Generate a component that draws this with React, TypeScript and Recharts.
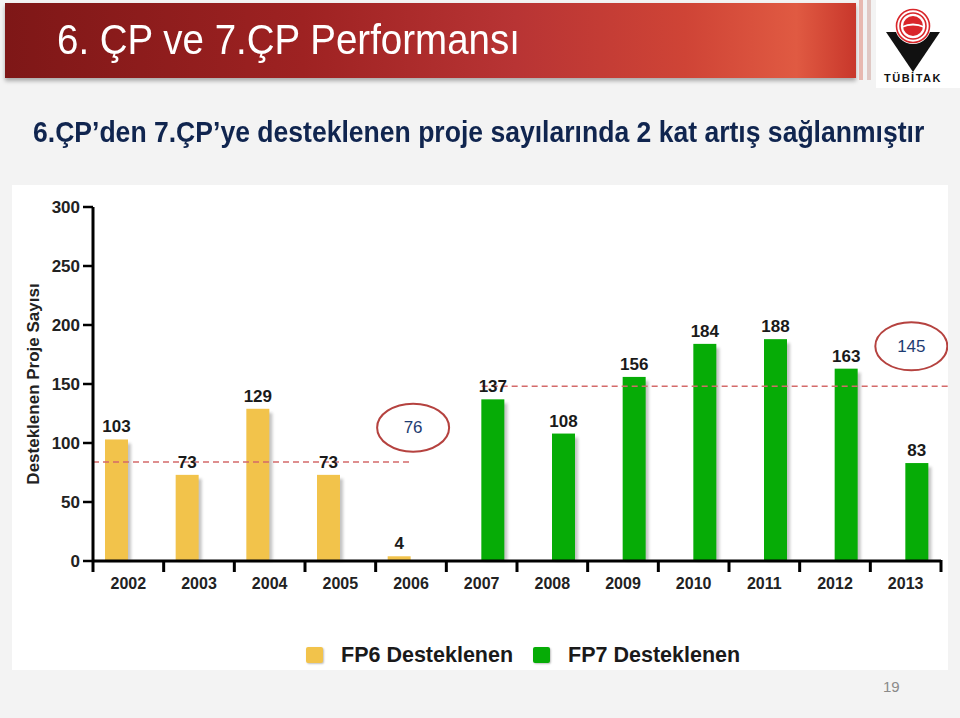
import React from 'react';
import { BarChart, Bar, XAxis, YAxis, LabelList, ReferenceLine, ReferenceDot, Legend } from 'recharts';

// years on the x axis
const years = ['2002', '2003', '2004', '2005', '2006', '2007', '2008', '2009', '2010', '2011', '2012', '2013'];
// supported projects per year
const fp6Values = [103, 73, 129, 73, 4, null, null, null, null, null, null, null];
const fp7Values = [null, null, null, null, null, 137, 108, 156, 184, 188, 163, 83];
const yTicks = [0, 50, 100, 150, 200, 250, 300];
const seriesNames = ['FP6 Desteklenen', 'FP7 Desteklenen'];
// average annotations (circled) and where the dashed lines sit
const averageLabels = ['76', '145'];
const averageLevels = [84, 148];

const FONT = '"Liberation Sans", Arial, sans-serif';
const YELLOW = '#F2C34B';
const GREEN = '#06AC06';
const DASH = '#D46A6A';

const data = years.map((year, i) => ({ year, fp6: fp6Values[i], fp7: fp7Values[i] }));

const ShadowBar = (props: any) => {
  const { x, y, width, height, fill } = props;
  if (!height || height <= 0) return null;
  return (
    <g>
      <rect x={x + 3} y={y + 4} width={width} height={Math.max(height - 4, 0)} fill="#555" opacity={0.35} filter="url(#barBlur)" />
      <rect x={x} y={y} width={width} height={height} fill={fill} />
    </g>
  );
};

const ValueLabel = (props: any) => {
  const { x, y, width, value } = props;
  if (value == null) return null;
  return (
    <text x={x + width / 2} y={y - 7} textAnchor="middle" fontFamily={FONT} fontWeight="bold" fontSize={17} fill="#1a1a1a">
      {value}
    </text>
  );
};

// year label in the band centre, tick mark on the band boundary
const YearTick = (props: any) => {
  const { x, y, payload, index } = props;
  const half = payload.offset ?? 35.3;
  return (
    <g>
      <line x1={x - half} y1={y - 1} x2={x - half} y2={y + 11} stroke="#000" strokeWidth={3} />
      {index === years.length - 1 && (
        <line x1={x + half} y1={y - 1} x2={x + half} y2={y + 11} stroke="#000" strokeWidth={3} />
      )}
      <text x={x} y={y + 28} textAnchor="middle" fontFamily={FONT} fontWeight="bold" fontSize={16} fill="#222">
        {payload.value}
      </text>
    </g>
  );
};

const AxisTitle = (props: any) => {
  const { viewBox } = props;
  const cx = viewBox.x + 21;
  const cy = viewBox.y + viewBox.height / 2;
  return (
    <text x={cx} y={cy} transform={`rotate(-90, ${cx}, ${cy})`} textAnchor="middle" dominantBaseline="central"
      fontFamily={FONT} fontWeight="bold" fontSize={17} fill="#222">
      Desteklenen Proje Sayısı
    </text>
  );
};

const circled = (text: string) => (props: any) => {
  const { cx, cy } = props;
  return (
    <g>
      <ellipse cx={cx} cy={cy} rx={36} ry={24} fill="none" stroke="#B5423F" strokeWidth={2} />
      <text x={cx} y={cy} textAnchor="middle" dominantBaseline="central" fontFamily={FONT} fontSize={17} fill="#1E3C72">
        {text}
      </text>
    </g>
  );
};

const LegendBox = () => (
  <div style={{ height: 72, display: 'flex', alignItems: 'flex-end', paddingLeft: 294, fontFamily: FONT }}>
    {seriesNames.map((name, i) => (
      <div key={name} style={{ display: 'flex', alignItems: 'center', marginRight: 20 }}>
        <span style={{ width: 17, height: 16, background: i === 0 ? YELLOW : GREEN, borderRadius: 2, marginRight: 18, boxShadow: '1px 1px 2px rgba(0,0,0,0.25)' }} />
        <span style={{ fontWeight: 'bold', fontSize: 21.5, color: '#1a1a1a', lineHeight: '16px' }}>{name}</span>
      </div>
    ))}
  </div>
);

const TubitakLogo = () => (
  <svg width={70} height={84} style={{ position: 'absolute', left: 878, top: 2 }}>
    <polygon points="8,30 62,30 35,70" fill="#111" />
    <circle cx={35} cy={24} r={18} fill="#fff" />
    <circle cx={35} cy={24} r={16.5} fill="none" stroke="#D9262A" strokeWidth={1.6} />
    <circle cx={35} cy={24} r={13} fill="none" stroke="#D9262A" strokeWidth={1.6} />
    <circle cx={35} cy={24} r={10} fill="#D9262A" />
    <path d="M24,25 Q35,20 46,25" stroke="#fff" strokeWidth={1.8} fill="none" />
    <text x={35} y={80} textAnchor="middle" fontFamily={FONT} fontWeight="bold" fontSize={11} letterSpacing={1.5} fill="#111">
      TÜBİTAK
    </text>
  </svg>
);

export default function App() {
  return (
    <div style={{ position: 'absolute', left: 0, top: 0, width: 960, height: 718, background: '#F3F3F3', overflow: 'hidden', fontFamily: FONT }}>
      {/* header band */}
      <div style={{
        position: 'absolute', left: 5, top: 3, width: 851, height: 75,
        background: 'linear-gradient(90deg, #7E1717 0%, #9E2222 35%, #B83434 60%, #CF4436 80%, #E05A42 93%, #C8372B 100%)',
        boxShadow: '0 3px 4px rgba(0,0,0,0.3)',
      }} />
      <div style={{ position: 'absolute', left: 859, top: 0, width: 4, height: 80, background: '#E8B8B0' }} />
      <div style={{ position: 'absolute', left: 867, top: 0, width: 4, height: 80, background: '#E0C8C4' }} />
      <div style={{ position: 'absolute', left: 876, top: 0, width: 84, height: 88, background: '#fff' }} />
      <TubitakLogo />
      <div style={{ position: 'absolute', left: 57, top: 13, color: '#fff', fontSize: 38.5, lineHeight: '48px', whiteSpace: 'nowrap', transform: 'scaleY(1.1)', transformOrigin: 'left top' }}>
        6. ÇP ve 7.ÇP Performansı
      </div>
      <div style={{ position: 'absolute', left: 33, top: 112, color: '#10254F', fontSize: 30, fontWeight: 'bold', lineHeight: '40px', whiteSpace: 'nowrap', transform: 'scaleX(0.885)', transformOrigin: 'left top' }}>
        6.ÇP’den 7.ÇP’ye desteklenen proje sayılarında 2 kat artış sağlanmıştır
      </div>

      {/* chart panel */}
      <div style={{ position: 'absolute', left: 12, top: 185, width: 936, height: 485, background: '#fff' }} />
      <div style={{ position: 'absolute', left: 12, top: 185 }}>
        <BarChart width={936} height={488} data={data} barGap={0} margin={{ top: 22, right: 7, left: 0, bottom: 10 }}>
          <defs>
            <filter id="barBlur" x="-50%" y="-10%" width="200%" height="120%">
              <feGaussianBlur stdDeviation={1.5} />
            </filter>
          </defs>
          <XAxis dataKey="year" height={30} tickSize={0} tickMargin={0} axisLine={{ stroke: '#000', strokeWidth: 3 }} tickLine={false} tick={<YearTick />} interval={0} />
          <XAxis xAxisId="span" type="number" dataKey={() => 0} domain={[0, 12]} allowDataOverflow hide />
          <YAxis domain={[0, 300]} ticks={yTicks} width={81} interval={0}
            axisLine={{ stroke: '#000', strokeWidth: 3 }} tickLine={{ stroke: '#000', strokeWidth: 2.5 }} tickSize={10} tickMargin={3}
            tick={{ fill: '#222', fontSize: 17, fontWeight: 'bold', fontFamily: FONT }}
            label={<AxisTitle />} />
          <Legend verticalAlign="bottom" content={<LegendBox />} />
          <ReferenceLine xAxisId="span" segment={[{ x: 0, y: averageLevels[0] }, { x: 4.5, y: averageLevels[0] }]} stroke={DASH} strokeWidth={1.5} strokeDasharray="6 4" ifOverflow="visible" />
          <ReferenceLine xAxisId="span" segment={[{ x: 5.5, y: averageLevels[1] }, { x: 12.12, y: averageLevels[1] }]} stroke={DASH} strokeWidth={1.5} strokeDasharray="6 4" ifOverflow="visible" />
          <Bar dataKey="fp6" name={seriesNames[0]} fill={YELLOW} barSize={23} shape={<ShadowBar />} isAnimationActive={false}>
            <LabelList dataKey="fp6" content={<ValueLabel />} />
          </Bar>
          <Bar dataKey="fp7" name={seriesNames[1]} fill={GREEN} barSize={23} shape={<ShadowBar />} isAnimationActive={false}>
            <LabelList dataKey="fp7" content={<ValueLabel />} />
          </Bar>
          <ReferenceDot xAxisId="span" x={4.53} y={113} ifOverflow="visible" shape={circled(averageLabels[0])} />
          <ReferenceDot xAxisId="span" x={11.58} y={182} ifOverflow="visible" shape={circled(averageLabels[1])} />
        </BarChart>
      </div>
      <div style={{ position: 'absolute', left: 883, top: 678, color: '#8A8A8A', fontSize: 15 }}>19</div>
    </div>
  );
}
